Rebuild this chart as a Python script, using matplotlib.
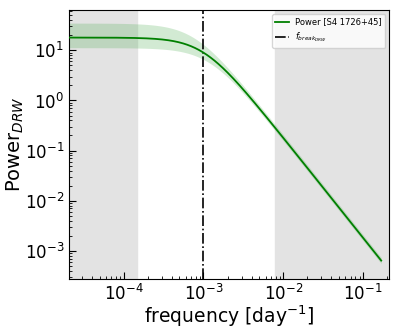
import numpy as np
import matplotlib
matplotlib.use("Agg")
import matplotlib.pyplot as plt

# Model parameters (DRW power spectrum)
amplitude = 18.0          # low-frequency plateau
f_break = 1.0e-3          # break frequency [1/day]
amp_upper = 35.0          # upper edge of band (plateau)
fbreak_upper = 7.7e-4
amp_lower = 11.3          # lower edge of band (plateau)
fbreak_lower = 1.18e-3
freq_range = [2.07e-5, 0.168]
shade_low = [2.07e-5, 1.48e-4]
shade_high = [7.9e-3, 0.213]
xlim = [2.07e-5, 0.213]
ylim = [2.75e-4, 64]


def drw(f, a, fb):
    return a / (1.0 + (f / fb) ** 2)


freq = np.logspace(np.log10(freq_range[0]), np.log10(freq_range[1]), 400)
power = drw(freq, amplitude, f_break)
upper = drw(freq, amp_upper, fbreak_upper)
lower = drw(freq, amp_lower, fbreak_lower)

fig = plt.figure(figsize=(3.99, 3.32), dpi=100)
ax = fig.add_axes([0.173, 0.160, 0.803, 0.810])

ax.axvspan(shade_low[0], shade_low[1], color="#e3e3e3", zorder=0)
ax.axvspan(shade_high[0], shade_high[1], color="#e3e3e3", zorder=0)
ax.fill_between(freq, lower, upper, color="#4caf50", alpha=0.25, lw=0, zorder=1)
ax.plot(freq, power, color="green", lw=1.3, label="Power [S4 1726+45]", zorder=3)
ax.axvline(f_break, color="black", ls="-.", lw=1.2, label=r"$f_{break_{DRW}}$", zorder=2)

ax.set_xscale("log")
ax.set_yscale("log")
ax.set_xlim(*xlim)
ax.set_ylim(*ylim)
ax.tick_params(which="both", direction="in", labelsize=12)
ax.tick_params(which="major", length=5)
ax.tick_params(which="minor", length=2.5)
ax.set_xlabel(r"frequency [day$^{-1}$]", fontsize=13.5, labelpad=0)
ax.set_ylabel(r"Power$_{DRW}$", fontsize=14, labelpad=-1)
ax.legend(loc="upper right", fontsize=6, framealpha=0.8, handlelength=1.6)

fig.savefig("out.png", dpi=100)
